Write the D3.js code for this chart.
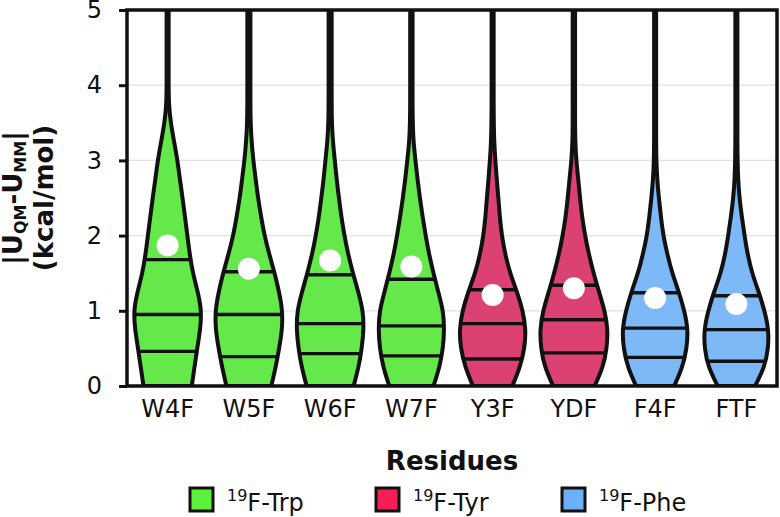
<!DOCTYPE html>
<html><head><meta charset="utf-8">
<script src="https://cdn.jsdelivr.net/npm/d3@7"></script>
<style>body{margin:0;background:#fff}svg{display:block}text{font-family:"DejaVu Sans",sans-serif}</style>
</head><body>
<svg id="chart" width="780" height="517"></svg>
<script>
// ---- data ----
const categories = ["W4F","W5F","W6F","W7F","Y3F","YDF","F4F","FTF"];
const groups     = ["Trp","Trp","Trp","Trp","Tyr","Tyr","Phe","Phe"];
const densityY   = [0,0.25,0.5,0.75,1,1.25,1.5,1.75,2,2.25,2.5,2.75,3,3.25,3.5,3.75,4,4.25,4.5,4.75,5];
const densW4F = [0.71,0.79,0.87,0.96,1.0,0.89,0.74,0.65,0.58,0.51,0.44,0.36,0.29,0.19,0.09,0.035,0.03,0.03,0.03,0.03,0.03];
const densW5F = [0.66,0.79,0.89,0.98,0.99,0.89,0.76,0.60,0.46,0.36,0.27,0.20,0.13,0.08,0.05,0.045,0.045,0.045,0.045,0.045,0.045];
const densW6F = [0.69,0.84,0.93,0.99,0.97,0.83,0.67,0.53,0.42,0.33,0.26,0.19,0.14,0.08,0.05,0.045,0.045,0.045,0.045,0.045,0.045];
const densW7F = [0.65,0.83,0.93,0.97,0.94,0.79,0.65,0.52,0.42,0.33,0.25,0.18,0.12,0.06,0.04,0.035,0.035,0.035,0.035,0.035,0.035];
const densY3F = [0.58,0.81,0.94,0.98,0.89,0.72,0.51,0.37,0.27,0.21,0.17,0.12,0.08,0.045,0.035,0.03,0.03,0.03,0.03,0.03,0.03];
const densYDF = [0.61,0.86,0.97,1.0,0.91,0.74,0.58,0.44,0.33,0.24,0.18,0.13,0.07,0.04,0.035,0.035,0.035,0.035,0.035,0.035,0.035];
const densF4F = [0.56,0.81,0.93,0.97,0.86,0.70,0.50,0.36,0.24,0.17,0.11,0.06,0.035,0.03,0.03,0.03,0.03,0.03,0.03,0.03,0.03];
const densFTF = [0.55,0.83,0.94,0.95,0.83,0.66,0.46,0.33,0.24,0.16,0.09,0.05,0.035,0.03,0.03,0.03,0.03,0.03,0.03,0.03,0.03];
const q1Values     = [0.46,0.39,0.43,0.40,0.36,0.44,0.38,0.33];
const medianValues = [0.95,0.95,0.83,0.80,0.83,0.88,0.77,0.75];
const q3Values     = [1.68,1.52,1.48,1.42,1.28,1.34,1.24,1.20];
const meanValues   = [1.87,1.56,1.67,1.59,1.21,1.30,1.17,1.09];
const yTicks = [0,1,2,3,4,5];
const legendLabels = ["Trp","Tyr","Phe"];
const densities = [densW4F,densW5F,densW6F,densW7F,densY3F,densYDF,densF4F,densFTF];

const violinColor = {Trp:"#64e84a", Tyr:"#db4171", Phe:"#7cb9f6"};
const legendColor = {Trp:"#5cf23c", Tyr:"#f41f52", Phe:"#6cb0fa"};

const svg = d3.select("#chart");
const L=127, R=777, T=10, B=386;
const x = d3.scaleBand().domain(categories).range([L,R]).padding(0);
const y = d3.scaleLinear().domain([0,5]).range([B,T]);
const halfMax = 34;
const w = d3.scaleLinear().domain([0,1]).range([0,halfMax]);

// grid
svg.append("g").selectAll("line").data(yTicks.filter(t=>t>0&&t<5)).join("line")
  .attr("x1",L).attr("x2",R).attr("y1",d=>y(d)).attr("y2",d=>y(d))
  .attr("stroke","#dde2e2").attr("stroke-width",1.2);

const defs = svg.append("defs");
defs.append("clipPath").attr("id","plotclip").append("rect")
  .attr("x",L).attr("y",T).attr("width",R-L).attr("height",B-T);

const plot = svg.append("g").attr("clip-path","url(#plotclip)");

categories.forEach((c,i)=>{
  const cx = x(c)+x.bandwidth()/2;
  const pts = densityY.map((yy,k)=>({y:yy,d:densities[i][k]}));
  const area = d3.area().curve(d3.curveBasis)
    .y(p=>y(p.y)).x0(p=>cx-w(p.d)).x1(p=>cx+w(p.d));
  const pathD = area(pts);
  defs.append("clipPath").attr("id","vc"+i).append("path").attr("d",pathD);
  const g = plot.append("g");
  g.append("path").attr("d",pathD).attr("fill",violinColor[groups[i]]);
  g.append("g").attr("clip-path",`url(#vc${i})`).selectAll("line")
    .data([q1Values[i],medianValues[i],q3Values[i]]).join("line")
    .attr("x1",cx-halfMax-5).attr("x2",cx+halfMax+5)
    .attr("y1",d=>y(d)).attr("y2",d=>y(d))
    .attr("stroke","#111").attr("stroke-width",3.4);
  g.append("path").attr("d",pathD).attr("fill","none")
    .attr("stroke","#111").attr("stroke-width",4).attr("stroke-linejoin","round");
  g.append("circle").attr("cx",cx).attr("cy",y(meanValues[i])).attr("r",11).attr("fill","#fff");
});

// frame
svg.append("rect").attr("x",L).attr("y",T).attr("width",R-L).attr("height",B-T)
  .attr("fill","none").attr("stroke","#111").attr("stroke-width",3.5);

// y axis
const ya = svg.append("g").attr("transform",`translate(${L},0)`)
  .call(d3.axisLeft(y).tickValues(yTicks).tickFormat(d3.format("d")).tickSize(8).tickPadding(17));
ya.select(".domain").remove();
ya.selectAll(".tick line").attr("stroke","#111").attr("stroke-width",3);
ya.selectAll(".tick text").attr("font-size",24).attr("fill","#111")
  .attr("font-family","DejaVu Sans, sans-serif");

// x axis
const xa = svg.append("g").attr("transform",`translate(0,${B})`)
  .call(d3.axisBottom(x).tickSize(0).tickPadding(14));
xa.select(".domain").remove();
xa.selectAll(".tick text").attr("font-size",24).attr("fill","#111")
  .attr("font-family","DejaVu Sans, sans-serif");

// axis titles
svg.append("text").attr("x",(L+R)/2).attr("y",470).attr("text-anchor","middle")
  .attr("font-size",26).attr("font-weight","bold").attr("fill","#111").text("Residues");

const yl = svg.append("text").attr("transform",`translate(22,${(T+B)/2}) rotate(-90)`)
  .attr("text-anchor","middle").attr("font-size",26).attr("font-weight","bold").attr("fill","#111");
yl.append("tspan").text("|U");
yl.append("tspan").attr("font-size",16).attr("dy",4).text("QM");
yl.append("tspan").attr("dy",-4).text("-U");
yl.append("tspan").attr("font-size",16).attr("dy",4).text("MM");
yl.append("tspan").attr("dy",-4).text("|");
svg.append("text").attr("transform",`translate(53,${(T+B)/2}) rotate(-90)`)
  .attr("text-anchor","middle").attr("font-size",26).attr("font-weight","bold").attr("fill","#111")
  .text("(kcal/mol)");

// legend
const legX = [190,376,562];
legendLabels.forEach((lab,i)=>{
  const g = svg.append("g").attr("transform",`translate(${legX[i]},488)`);
  g.append("rect").attr("x",0).attr("y",0).attr("width",23).attr("height",23)
    .attr("fill",legendColor[lab]).attr("stroke","#111").attr("stroke-width",3);
  const t = g.append("text").attr("x",37).attr("y",23).attr("font-size",24).attr("fill","#111");
  t.append("tspan").attr("font-size",16).attr("dy",-10).text("19");
  t.append("tspan").attr("dy",10).text("F-"+lab);
});
</script>
</body></html>
